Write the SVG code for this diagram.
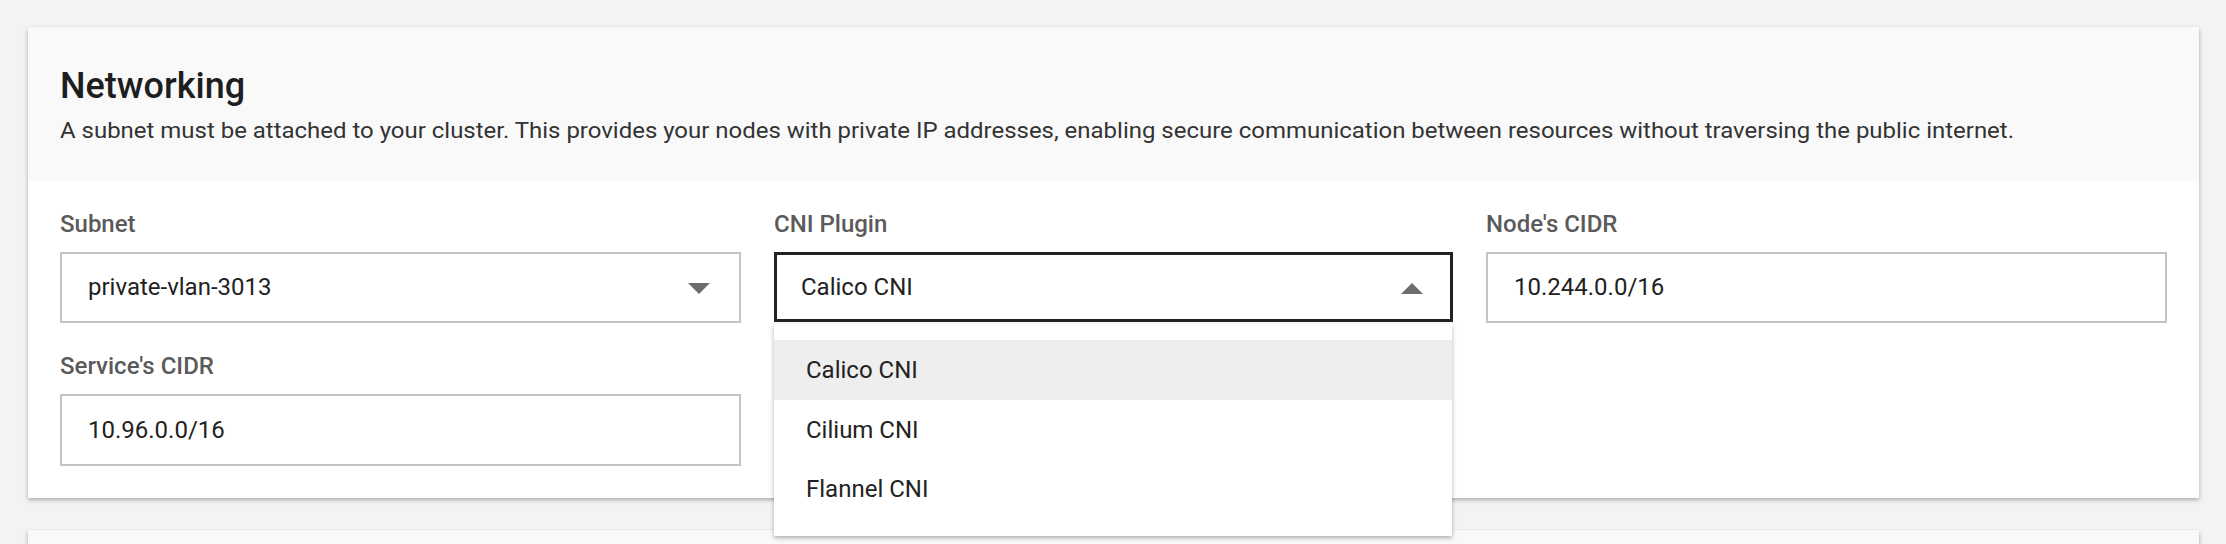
<svg xmlns="http://www.w3.org/2000/svg" width="2226" height="544" viewBox="0 0 2226 544">
<defs>
<style>
.lbl{font-family:Roboto,"Liberation Sans",sans-serif;font-size:24px;font-weight:500;fill:#5a5a5a}
.val{font-family:Roboto,"Liberation Sans",sans-serif;font-size:24px;fill:#222}
.box{fill:#fff;stroke:#c4c4c4;stroke-width:2}
.arr{fill:#6d6d6d}
</style>
<filter id="sh" x="-5%" y="-5%" width="110%" height="115%"><feDropShadow dx="0" dy="2" stdDeviation="2" flood-color="#000" flood-opacity="0.3"/></filter>
</defs>
<rect width="2226" height="544" fill="#f2f3f3"/>
<rect x="28" y="530" width="2171" height="20" fill="#f9f9f9" filter="url(#sh)"/>
<g id="card">
<rect x="28" y="27" width="2171" height="471" fill="#fff" filter="url(#sh)"/>
<rect x="28" y="27" width="2171" height="154" fill="#f9f9f9"/>
<text x="60" y="98" font-family="Roboto,'Liberation Sans',sans-serif" font-size="36" font-weight="500" fill="#1e1e1e">Networking</text>
<text x="60" y="138" font-family="Roboto,'Liberation Sans',sans-serif" font-size="22" fill="#333" textLength="1954" lengthAdjust="spacingAndGlyphs">A subnet must be attached to your cluster. This provides your nodes with private IP addresses, enabling secure communication between resources without traversing the public internet.</text>
</g>
<g id="subnet">
<text class="lbl" x="60" y="232">Subnet</text>
<rect class="box" x="61" y="253" width="679" height="69"/>
<text class="val" x="88" y="295">private-vlan-3013</text>
<path class="arr" d="M688,283 L710,283 L699,294 Z"/>
</g>
<g id="service-cidr">
<text class="lbl" x="60" y="374">Service's CIDR</text>
<rect class="box" x="61" y="395" width="679" height="70"/>
<text class="val" x="88" y="438">10.96.0.0/16</text>
</g>
<g id="node-cidr">
<text class="lbl" x="1486" y="232">Node's CIDR</text>
<rect class="box" x="1487" y="253" width="679" height="69"/>
<text class="val" x="1514" y="295">10.244.0.0/16</text>
</g>
<g id="cni">
<text class="lbl" x="774" y="232">CNI Plugin</text>
<rect x="775.5" y="253.5" width="676" height="67" fill="#fff" stroke="#222" stroke-width="3"/>
<text class="val" x="801" y="295">Calico CNI</text>
<path class="arr" d="M1401,294 L1423,294 L1412,283 Z"/>
</g>
<g id="cni-menu">
<rect x="774" y="324" width="678" height="212" fill="#fff" filter="url(#sh)"/>
<rect x="774" y="340" width="678" height="60" fill="#eeeeee"/>
<text class="val" x="806" y="378">Calico CNI</text>
<text class="val" x="806" y="438">Cilium CNI</text>
<text class="val" x="806" y="497">Flannel CNI</text>
</g>
<g id="connectors"/>
</svg>
